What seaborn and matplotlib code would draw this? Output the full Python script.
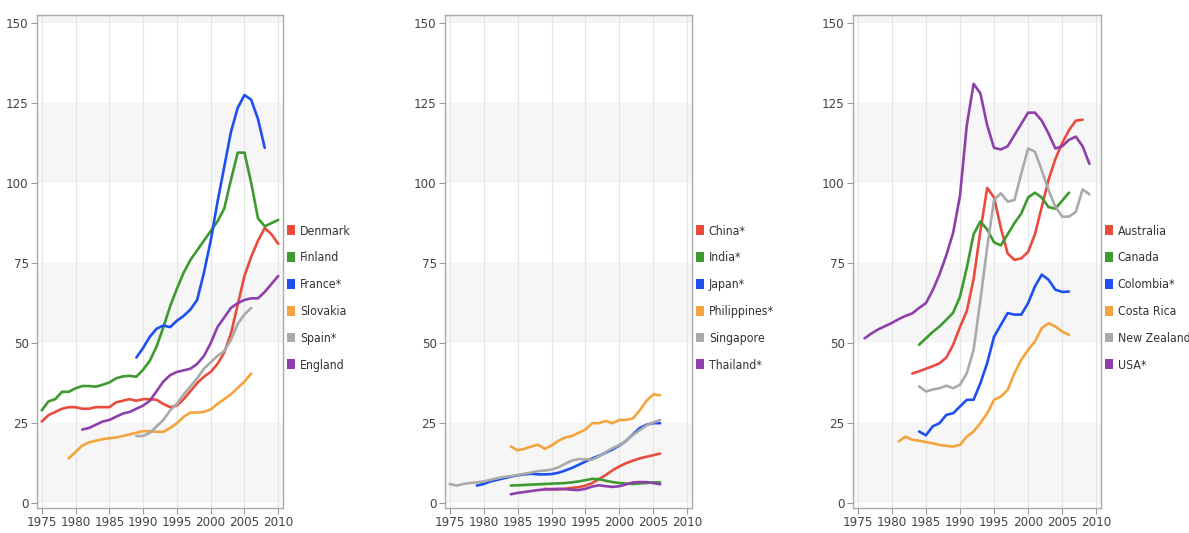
import numpy as np
import pandas as pd
import matplotlib
matplotlib.use("Agg")
import matplotlib.pyplot as plt
from matplotlib import font_manager
from matplotlib.patches import Patch
import seaborn as sns

# ---- data: start year + yearly values per country ----
# Panel 1 (Europe)
denmark_start = 1975
denmark = [25.5, 27.5, 28.5, 29.5, 30, 30, 29.5, 29.5, 30, 30, 30, 31.5, 32, 32.5, 32,
           32.5, 32.5, 32.3, 31, 30, 30.5, 32.5, 35, 37.5, 39.5, 41, 43.5, 47, 53, 62,
           71, 77, 82, 86, 84, 81]
finland_start = 1975
finland = [29, 31.8, 32.5, 34.8, 34.8, 35.9, 36.6, 36.6, 36.4, 37, 37.7, 39, 39.6, 39.8,
           39.5, 41.7, 44.5, 49, 55, 61.5, 67, 72, 76, 79, 82, 85, 88, 92, 101, 109.5,
           109.5, 100, 89, 86.5, 87.5, 88.5]
france_start = 1989
france = [45.5, 48.5, 52, 54.5, 55.5, 55, 57, 58.5, 60.5, 63.5, 72, 82, 94, 105, 116,
          123.5, 127.5, 126, 120, 111]
slovakia_start = 1979
slovakia = [14, 16, 18, 19, 19.5, 20, 20.3, 20.5, 21, 21.5, 22, 22.5, 22.5, 22.3, 22.3,
            23.5, 25, 27, 28.3, 28.3, 28.5, 29.3, 31, 32.5, 34, 36, 38, 40.5]
spain_start = 1989
spain = [21, 21, 22, 24, 26, 29, 31, 34, 36.5, 39, 42, 44, 46, 47.5, 51, 56, 59, 61]
england_start = 1981
england = [23, 23.5, 24.5, 25.5, 26, 27, 28, 28.5, 29.5, 30.5, 32, 35, 38, 40, 41, 41.5,
           42, 43.5, 46, 50, 55, 58, 61, 62.5, 63.5, 64, 64, 66, 68.5, 71]

# Panel 2 (Asia)
china_start = 1989
china = [4.5, 4.3, 4.3, 4.5, 4.8, 5, 5.5, 6.3, 7.5, 8.8, 10.3, 11.5, 12.5, 13.3, 14,
         14.5, 15, 15.5]
india_start = 1984
india = [5.5, 5.6, 5.7, 5.8, 5.9, 6, 6.1, 6.2, 6.3, 6.5, 6.8, 7.2, 7.6, 7.5, 7, 6.6,
         6.3, 6.1, 6, 6.2, 6.3, 6.5, 6.5]
japan_start = 1979
japan = [5.5, 6, 6.8, 7.3, 7.8, 8.3, 8.7, 9, 9.2, 9, 9, 9.1, 9.5, 10.2, 11, 12, 13, 14,
         14.8, 15.8, 16.8, 18, 19.5, 21.5, 23.5, 24.5, 25, 25]
philippines_start = 1984
philippines = [17.7, 16.5, 17, 17.7, 18.3, 17, 18, 19.5, 20.5, 21, 22, 23, 25, 25, 25.7,
               25, 26, 26, 26.5, 29, 32, 34, 33.7]
singapore_start = 1975
singapore = [6, 5.5, 6, 6.3, 6.5, 6.8, 7.3, 7.8, 8.2, 8.5, 8.8, 9.2, 9.6, 10, 10.2, 10.5,
             11.2, 12.3, 13.3, 13.8, 13.7, 13.6, 14.6, 16, 17.2, 18.2, 19.5, 21.3, 22.8,
             24.3, 25.2, 26]
thailand_start = 1984
thailand = [2.8, 3.2, 3.5, 3.8, 4.1, 4.3, 4.4, 4.5, 4.4, 4.2, 4.1, 4.5, 5.2, 5.6, 5.3,
            5.1, 5.3, 5.9, 6.5, 6.6, 6.6, 6.3, 5.9]

# Panel 3 (Americas & Oceania)
australia_start = 1983
australia = [40.5, 41.2, 42, 42.8, 43.7, 45.5, 49.5, 55, 60, 70, 85, 98.5, 95.5, 86, 78,
             76, 76.5, 78.5, 84, 92.5, 101, 107.5, 112.5, 116.5, 119.5, 119.8]
canada_start = 1984
canada = [49.5, 51.5, 53.5, 55.2, 57.3, 59.5, 64.5, 73.5, 84, 88, 85.5, 81.5, 80.5, 84,
          87.5, 90.5, 95.5, 97, 95.5, 92.5, 92, 94.5, 97]
colombia_start = 1984
colombia = [22.4, 21.2, 24, 25, 27.6, 28.1, 30.2, 32.3, 32.3, 37.5, 43.8, 52, 55.7, 59.4,
            58.9, 58.9, 62.5, 67.7, 71.4, 69.8, 66.7, 66, 66.1]
costa_rica_start = 1981
costa_rica = [19.3, 20.8, 19.8, 19.5, 19.1, 18.7, 18.2, 17.9, 17.7, 18.2, 20.8, 22.4, 25,
              28.1, 32.3, 33.3, 35.4, 40.6, 44.8, 47.9, 50.5, 54.7, 56.2, 55.2, 53.6, 52.6]
new_zealand_start = 1984
new_zealand = [36.5, 34.9, 35.5, 35.9, 36.7, 35.9, 37, 40.6, 47.9, 63.5, 80, 94.7, 96.8,
               94.2, 94.7, 103, 110.8, 109.8, 104, 97.8, 92.6, 89.5, 89.5, 91, 98, 96.5]
usa_start = 1976
usa = [51.5, 53, 54.3, 55.3, 56.3, 57.5, 58.5, 59.3, 61, 62.5, 66.5, 71.5, 77.5, 84.5, 96,
       118, 131, 128, 118, 111, 110.5, 111.5, 115, 118.5, 122, 122, 119.5, 115.5, 110.8,
       111.5, 113.5, 114.5, 111.5, 106]

panel1 = [("Denmark", denmark_start, denmark), ("Finland", finland_start, finland),
          ("France*", france_start, france), ("Slovakia", slovakia_start, slovakia),
          ("Spain*", spain_start, spain), ("England", england_start, england)]
panel2 = [("China*", china_start, china), ("India*", india_start, india),
          ("Japan*", japan_start, japan), ("Philippines*", philippines_start, philippines),
          ("Singapore", singapore_start, singapore), ("Thailand*", thailand_start, thailand)]
panel3 = [("Australia", australia_start, australia), ("Canada", canada_start, canada),
          ("Colombia*", colombia_start, colombia), ("Costa Rica", costa_rica_start, costa_rica),
          ("New Zealand", new_zealand_start, new_zealand), ("USA*", usa_start, usa)]

x_ticks = [1975, 1980, 1985, 1990, 1995, 2000, 2005, 2010]
y_ticks = [0, 25, 50, 75, 100, 125, 150]

# same colour sequence in every panel
series_colors = ["#e94b3c", "#3d9a2f", "#1e50ee", "#f4a43c", "#aaaaaa", "#8e40aa"]

# ---- styling ----
sns.set_theme(style="white")


def pick_narrow_font():
    """Return FontProperties for a condensed sans face, if one is installed."""
    entries = font_manager.fontManager.ttflist
    ranked = []
    for f in entries:
        fn = f.fname.lower()
        nm = f.name.lower()
        narrow = ("narrow" in fn or "condensed" in fn or "narrow" in nm
                  or "condensed" in nm or str(f.stretch) in ("condensed", "semi-condensed"))
        if not narrow or f.style != "normal":
            continue
        if "bold" in fn or "light" in fn or "oblique" in fn or "italic" in fn:
            continue
        score = 3
        if "liberationsansnarrow" in fn.replace("-", "").replace("_", ""):
            score = 0
        elif "arial" in fn:
            score = 0
        elif "dejavusanscondensed" in fn.replace("-", ""):
            score = 1
        elif "condensed" in fn:
            score = 2
        ranked.append((score, f.fname))
    if ranked:
        ranked.sort()
        return font_manager.FontProperties(fname=ranked[0][1])
    return None


narrow_fp = pick_narrow_font()
plt.rcParams["font.family"] = ["DejaVu Sans"]
tick_size = 9.5 if narrow_fp is not None else 8.0
legend_size = 8.8 if narrow_fp is not None else 8.0

fig = plt.figure(figsize=(11.89, 5.33), dpi=100)
fig.patch.set_facecolor("white")

axes_rects = [
    [37 / 1189, 25 / 533, 246 / 1189, 493 / 533],
    [445 / 1189, 25 / 533, 247 / 1189, 493 / 533],
    [853 / 1189, 25 / 533, 248 / 1189, 493 / 533],
]


def to_frame(panel):
    rows = []
    for name, start, vals in panel:
        for i, v in enumerate(vals):
            rows.append({"country": name, "year": start + i, "value": v})
    return pd.DataFrame(rows)


def style_text(t, color, size):
    if narrow_fp is not None:
        t.set_fontproperties(narrow_fp)
    t.set_fontsize(size)
    t.set_color(color)


for rect, panel in zip(axes_rects, [panel1, panel2, panel3]):
    ax = fig.add_axes(rect)
    ax.set_facecolor("white")
    ax.set_xlim(1974.3, 2010.7)
    ax.set_ylim(-1.5, 152.5)

    # alternating horizontal bands
    for lo in range(0, 175, 50):
        ax.axhspan(lo, lo + 25, color="#f6f6f6", zorder=0, lw=0)
    for x in x_ticks:
        ax.axvline(x, color="#e6e6e6", lw=0.9, zorder=0.5)

    df = to_frame(panel)
    names = [p[0] for p in panel]
    palette = dict(zip(names, series_colors))
    sns.lineplot(data=df, x="year", y="value", hue="country", hue_order=names,
                 palette=palette, estimator=None, linewidth=1.9, legend=False,
                 ax=ax, zorder=3)

    ax.set_xticks(x_ticks)
    ax.set_yticks(y_ticks)
    ax.set_xticklabels([str(v) for v in x_ticks])
    ax.set_yticklabels([str(v) for v in y_ticks])
    ax.set_xlabel("")
    ax.set_ylabel("")
    ax.tick_params(axis="both", which="major", length=4, width=0.8, color="#999999",
                   pad=2, direction="out", bottom=True, left=True)
    for t in ax.get_xticklabels() + ax.get_yticklabels():
        style_text(t, "#444444", tick_size)
    for s in ax.spines.values():
        s.set_color("#aaaaaa")
        s.set_linewidth(1.0)

    handles = [Patch(facecolor=palette[n], edgecolor="none") for n in names]
    leg_prop = narrow_fp.copy() if narrow_fp is not None else font_manager.FontProperties()
    leg_prop.set_size(legend_size)
    leg = ax.legend(handles, names, loc="upper left", bbox_to_anchor=(1.016, 0.575),
                    frameon=False, borderaxespad=0, borderpad=0, handlelength=0.65,
                    handleheight=0.85, handletextpad=0.4, labelspacing=1.13,
                    prop=leg_prop)
    for t in leg.get_texts():
        t.set_color("#333333")

fig.savefig("out.png", dpi=100)
